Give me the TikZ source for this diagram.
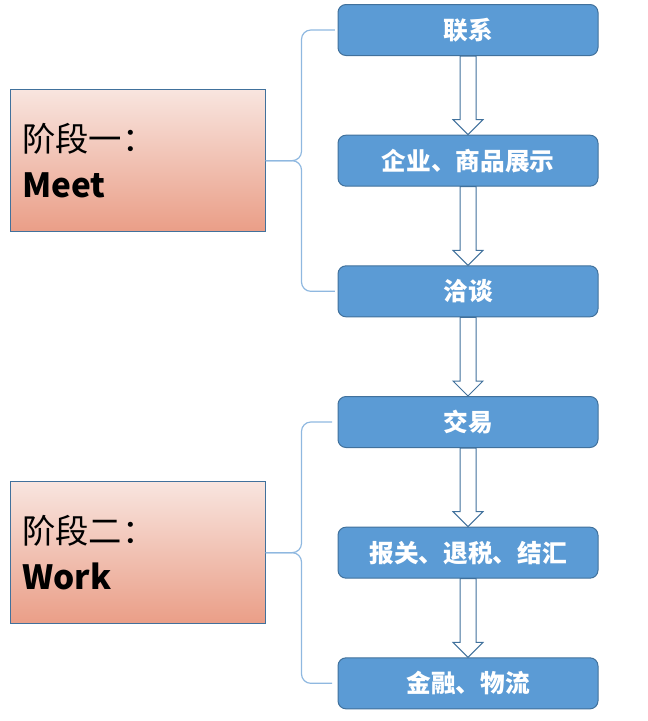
\documentclass[tikz,border=0pt]{standalone}
\usepackage{fontspec}
\setmainfont{Noto Sans CJK SC}
\usetikzlibrary{positioning,calc}

\definecolor{stepblue}{HTML}{5B9BD5}
\definecolor{stepline}{HTML}{41719C}
\definecolor{bracecol}{HTML}{8FB8E0}
\definecolor{phasetop}{HTML}{F8E5DF}
\definecolor{phasebot}{HTML}{EA9E87}

\tikzset{
  stepbox/.style={draw=stepline, fill=stepblue, rounded corners=6pt, line width=0.75pt,
    minimum width=195pt, minimum height=38.25pt, text=white, font=\bfseries\fontsize{18.5pt}{22pt}\selectfont},
  phasebox/.style={draw=stepline, line width=0.75pt, top color=phasetop, bottom color=phasebot,
    minimum width=191.25pt, minimum height=106.5pt, text width=173pt, align=left,
    font=\fontsize{25pt}{34pt}\selectfont},
  bracepath/.style={draw=bracecol, line width=0.9pt, rounded corners=7pt},
  blockarrow/.style={draw=stepline, fill=white, line width=0.75pt}
}

\begin{document}
\begin{tikzpicture}[x=0.75pt, y=-0.75pt, node distance=59pt]
    \useasboundingbox (0,0) rectangle (647,721);

    \node(q1) [stepbox] at (468,30)          {联系};
    \node(q2) [stepbox, below=of q1]         {企业、商品展示};
    \node(q3) [stepbox, below=of q2]         {洽谈};
    \node(q4) [stepbox, below=of q3]         {交易};
    \node(q5) [stepbox, below=of q4]         {报关、退税、结汇};
    \node(q6) [stepbox, below=of q5]         {金融、物流};

    \node(p1) [phasebox, left=54pt of q2]    {阶段一：\\\textbf{Meet}};
    \node(p2) [phasebox, left=54pt of q5]    {阶段二：\\\textbf{Work}};

    \foreach \a/\b in {q1/q2, q2/q3, q3/q4, q4/q5, q5/q6}
      \draw [blockarrow] ($(\a.south)+(-8,0)$) -- ($(\b.north)+(-8,-15)$) -- ($(\b.north)+(-15,-15)$)
        -- (\b.north) -- ($(\b.north)+(15,-15)$) -- ($(\b.north)+(8,-15)$) -- ($(\a.south)+(8,0)$) -- cycle;

    \coordinate (k1) at ($(p1.east)+(36,0)$);
    \coordinate (k2) at ($(p2.east)+(36,0)$);
    \draw [bracepath] ([xshift=-2pt]q1.west) -| (k1) -- (p1.east);
    \draw [bracepath] ([xshift=-2pt]q3.west) -| (k1) -- (p1.east);
    \draw [bracepath] ([xshift=-4pt]q4.west) -| (k2) -- (p2.east);
    \draw [bracepath] ([xshift=-4pt]q6.west) -| (k2) -- (p2.east);

\end{tikzpicture}
\end{document}
